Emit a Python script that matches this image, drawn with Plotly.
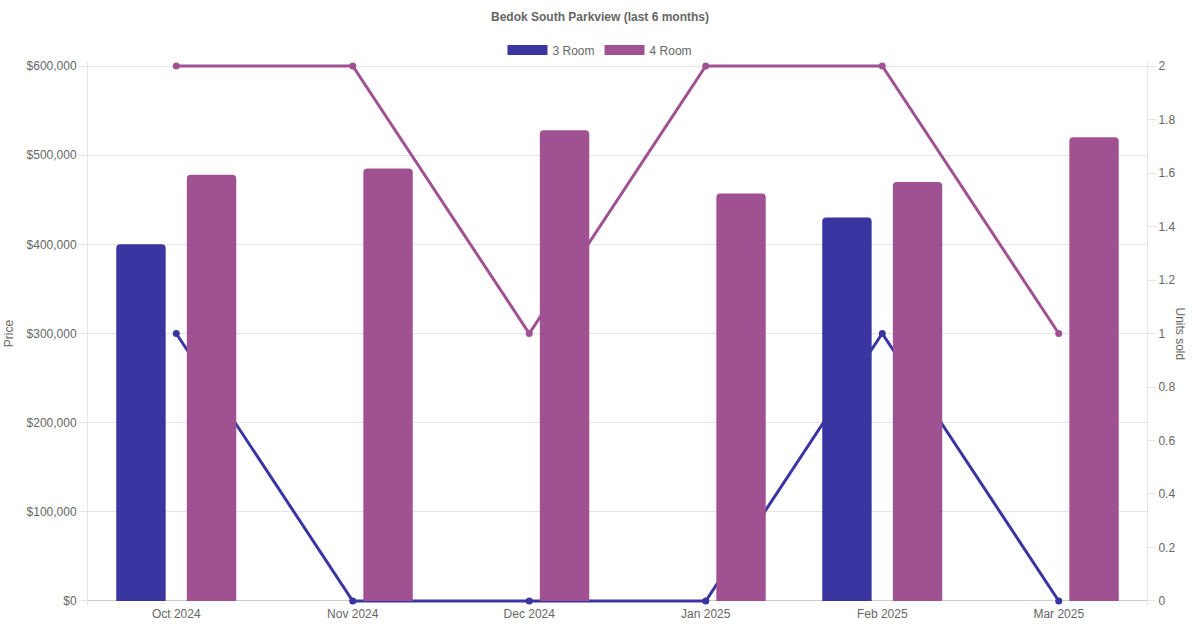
import plotly.graph_objects as go

months = ["Oct 2024", "Nov 2024", "Dec 2024", "Jan 2025", "Feb 2025", "Mar 2025"]
price_3room = [400000, None, None, None, 430000, None]
price_4room = [478000, 485000, 528000, 457000, 470000, 520000]
units_3room = [1, 0, 0, 0, 1, 0]
units_4room = [2, 2, 1, 2, 2, 1]
price_ticks = [0, 100000, 200000, 300000, 400000, 500000, 600000]
price_tick_labels = ["$0", "$100,000", "$200,000", "$300,000", "$400,000", "$500,000", "$600,000"]
unit_ticks = [0, 0.2, 0.4, 0.6, 0.8, 1, 1.2, 1.4, 1.6, 1.8, 2]
unit_tick_labels = ["0", "0.2", "0.4", "0.6", "0.8", "1", "1.2", "1.4", "1.6", "1.8", "2"]

C3 = "#3a35a0"
C4 = "#a05192"
FONT = "Liberation Sans, Arial, sans-serif"
GRID = "#e5e5e5"
TXT = "#666666"

PAD = 0.0075  # small room beyond the axis ends so lines at 0 and at max are not clipped

fig = go.Figure()

# lines (units sold) on main axis y (right side) so bars are drawn above
fig.add_trace(go.Scatter(x=months, y=units_3room, mode="lines+markers", yaxis="y",
                         line=dict(color=C3, width=3), marker=dict(color=C3, size=7),
                         cliponaxis=False, showlegend=False, name="3 Room"))
fig.add_trace(go.Scatter(x=months, y=units_4room, mode="lines+markers", yaxis="y",
                         line=dict(color=C4, width=3), marker=dict(color=C4, size=7),
                         cliponaxis=False, showlegend=False, name="4 Room"))

# bars (price) on overlaying axis y2 (left side)
fig.add_trace(go.Bar(x=months, y=price_3room, yaxis="y2", marker=dict(color=C3, line=dict(width=0)),
                     name="3 Room", showlegend=False))
fig.add_trace(go.Bar(x=months, y=price_4room, yaxis="y2", marker=dict(color=C4, line=dict(width=0)),
                     name="4 Room", showlegend=False))

# legend entries
fig.add_trace(go.Scatter(x=[None], y=[None], mode="lines", line=dict(color=C3, width=12), name="3 Room"))
fig.add_trace(go.Scatter(x=[None], y=[None], mode="lines", line=dict(color=C4, width=12), name="4 Room"))

fig.update_layout(
    width=1200, height=630,
    paper_bgcolor="white", plot_bgcolor="white",
    margin=dict(l=88, r=53, t=62, b=25, autoexpand=False),
    font=dict(family=FONT, size=12, color=TXT),
    title=dict(text="<b>Bedok South Parkview (last 6 months)</b>", x=0.5, xanchor="center",
               xref="container", yref="container", y=1 - 17 / 630, yanchor="middle",
               font=dict(size=12, color=TXT, family=FONT)),
    legend=dict(orientation="h", x=(600 - 88) / (1147 - 88), xanchor="center", xref="paper", yref="container",
                y=1 - 50 / 630, yanchor="middle",
                font=dict(size=12, color=TXT), itemwidth=40, traceorder="normal"),
    barmode="group", bargap=0.2, bargroupgap=0.3, barcornerradius=4,
    xaxis=dict(type="category", showgrid=False, showline=False,
               ticks="", tickfont=dict(size=12, color=TXT), automargin=False, layer="below traces"),
    yaxis=dict(side="right", range=[-2 * PAD, 2 + 2 * PAD], tickvals=unit_ticks, ticktext=unit_tick_labels,
               showgrid=False, zeroline=False, showline=True, linecolor=GRID,
               ticks="outside", ticklen=8, tickcolor=GRID, automargin=False, layer="below traces",
               tickfont=dict(size=12, color=TXT)),
    yaxis2=dict(side="left", overlaying="y", range=[-600000 * PAD, 600000 * (1 + PAD)],
                tickvals=price_ticks, ticktext=price_tick_labels, showgrid=True, gridcolor=GRID,
                zeroline=True, zerolinecolor="#cccccc", zerolinewidth=1,
                showline=True, linecolor=GRID, ticks="outside", ticklen=8, tickcolor=GRID,
                tickfont=dict(size=12, color=TXT), automargin=False, layer="below traces",
                title=dict(text="Price", font=dict(size=12, color=TXT), standoff=10)),
    annotations=[dict(text="Units sold", xref="paper", yref="paper", x=1.0, xshift=42, y=0.5,
                      textangle=90, showarrow=False, font=dict(size=12, color=TXT))],
)

fig.write_html("out.html", config={"displayModeBar": False},
               post_script="document.body.style.margin='0';")
